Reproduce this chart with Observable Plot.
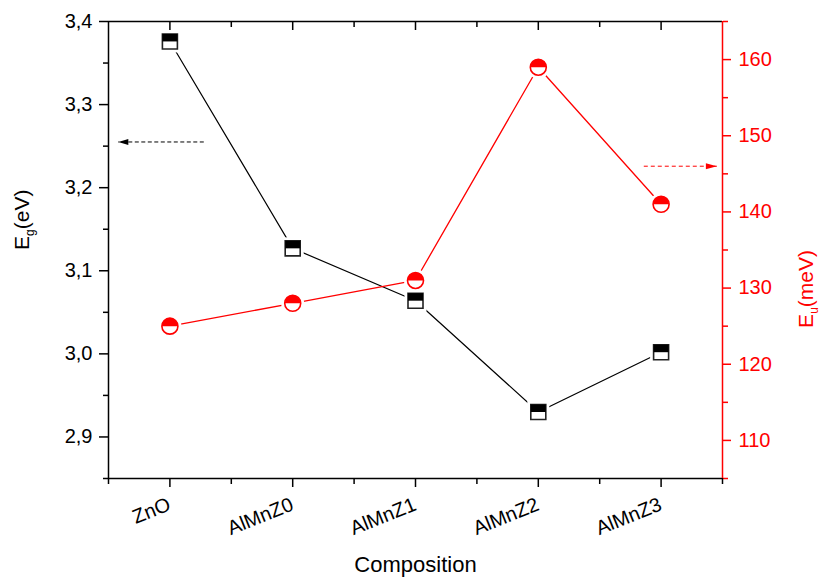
<!DOCTYPE html>
<html><head><meta charset="utf-8">
<script src="https://cdn.jsdelivr.net/npm/d3@7"></script>
<script src="https://cdn.jsdelivr.net/npm/@observablehq/plot@0.6"></script>
<style>html,body{margin:0;padding:0;background:#fff;} svg{display:block}</style>
</head><body><div id="chart"></div>
<script>
const categories = ["ZnO", "AlMnZ0", "AlMnZ1", "AlMnZ2", "AlMnZ3"];
const egValues = [3.376, 3.127, 3.064, 2.930, 3.002];
const euValues = [125, 128, 131, 159, 141];
const egTicks = [2.9, 3.0, 3.1, 3.2, 3.3, 3.4];
const egMinorTicks = [2.85, 2.95, 3.05, 3.15, 3.25, 3.35];
const euTicks = [110, 120, 130, 140, 150, 160];
const euMinorTicks = [105, 115, 125, 135, 145, 155, 165];
const egDomain = [2.85, 3.4];
const euDomain = [105, 165];
const xDomain = [-0.5, 4.5];
const xMinorTicks = [-0.5, 0.5, 1.5, 2.5, 3.5, 4.5];
// annotation arrows: [tail x, tip x] in category units, level in own axis units
const arrowEgX = [0.276, -0.42];
const arrowEgLevel = 3.255;
const arrowEuX = [3.859, 4.454];
const arrowEuLevel = 146;

const W = 828, H = 588, ML = 108, MR = 106, MT = 21, MB = 110;
const toEg = v => egDomain[0] + (v - euDomain[0]) / (euDomain[1] - euDomain[0]) * (egDomain[1] - egDomain[0]);
const fromEg = v => euDomain[0] + (v - egDomain[0]) / (egDomain[1] - egDomain[0]) * (euDomain[1] - euDomain[0]);
const idx = categories.map((_, i) => i);
const comma = d => d3.format(".1f")(d).replace(".", ",");
const rad = size => Math.sqrt(size / Math.PI);
// pixel length expressed in Eg units (for inward top ticks)
const egPerPx = (egDomain[1] - egDomain[0]) / (H - MT - MB);

const squareFull = {draw(c, s) { const r = rad(s); c.rect(-r, -r, 2 * r, 2 * r); }};
const squareTop = {draw(c, s) { const r = rad(s); c.rect(-r, -r, 2 * r, r); }};
const circleFull = {draw(c, s) { const r = rad(s); c.moveTo(r, 0); c.arc(0, 0, r, 0, 2 * Math.PI); }};
const circleTop = {draw(c, s) { const r = rad(s); c.moveTo(-r, 0); c.arc(0, 0, r, Math.PI, 2 * Math.PI); c.closePath(); }};
const arrowLeft = {draw(c) { c.moveTo(0, 0); c.lineTo(10, -3); c.lineTo(10, 3); c.closePath(); }};
const arrowRight = {draw(c) { c.moveTo(0, 0); c.lineTo(-11, -3); c.lineTo(-11, 3); c.closePath(); }};

const RED = "#ff0000";
const FONT = "'Liberation Sans', Arial, Helvetica, sans-serif";

const chart = Plot.plot({
  width: W, height: H,
  marginLeft: ML, marginRight: MR, marginTop: MT, marginBottom: MB,
  style: {fontFamily: FONT, background: "#fff", color: "#000"},
  x: {type: "linear", domain: xDomain},
  y: {domain: egDomain},
  marks: [
    // frame
    Plot.ruleY(egDomain, {stroke: "black", strokeWidth: 1.5}),
    Plot.ruleX([xDomain[0]], {stroke: "black", strokeWidth: 1.5}),
    Plot.ruleX([xDomain[1]], {stroke: RED, strokeWidth: 1.5}),
    // left axis
    Plot.axisY({anchor: "left", ticks: egTicks, tickSize: 9, tickPadding: 7, tickFormat: comma, fontSize: 20, label: null, strokeWidth: 1.5}),
    Plot.axisY({anchor: "left", ticks: egMinorTicks, tickSize: 5, tickFormat: () => "", label: null, strokeWidth: 1.5}),
    // right axis
    Plot.axisY({anchor: "right", ticks: euTicks.map(toEg), tickSize: 8, tickPadding: 8, tickFormat: d => String(Math.round(fromEg(d))), fontSize: 20, label: null, stroke: RED, fill: RED, color: RED, strokeWidth: 1.5}),
    Plot.axisY({anchor: "right", ticks: euMinorTicks.map(toEg), tickSize: 5, tickFormat: () => "", label: null, stroke: RED, strokeWidth: 1.5}),
    // bottom axis
    Plot.axisX({anchor: "bottom", ticks: idx, tickSize: 9, tickFormat: () => "", label: null, strokeWidth: 1.5}),
    Plot.axisX({anchor: "bottom", ticks: xMinorTicks, tickSize: 6, tickFormat: () => "", label: null, strokeWidth: 1.5}),
    // top inward ticks
    Plot.ruleX(idx, {x: i => i, y1: () => egDomain[1], y2: () => egDomain[1] - 9 * egPerPx, stroke: "black", strokeWidth: 1.5}),
    Plot.ruleX(xMinorTicks.slice(1, -1), {x: d => d, y1: () => egDomain[1], y2: () => egDomain[1] - 6 * egPerPx, stroke: "black", strokeWidth: 1.5}),
    // x tick labels
    Plot.text(idx, {x: i => i, text: i => categories[i], frameAnchor: "bottom", dy: 31, dx: 2, rotate: -22, textAnchor: "end", fontSize: 20, fill: "black"}),
    // axis titles
    Plot.text(["Composition"], {frameAnchor: "bottom", dy: 93, fontSize: 22, fill: "black"}),
    Plot.text(["Eg(eV)"], {frameAnchor: "left", dx: -86, rotate: -90, fontSize: 21, fill: "black", className: "eg-label"}),
    Plot.text(["Eu(meV)"], {frameAnchor: "right", dx: 84, rotate: -90, fontSize: 21, fill: RED, className: "eu-label"}),
    // series lines
    Plot.line(idx, {x: i => i, y: i => egValues[i], stroke: "black", strokeWidth: 1.2}),
    Plot.line(idx, {x: i => i, y: i => toEg(euValues[i]), stroke: RED, strokeWidth: 1.3}),
    // halos for line gaps
    Plot.dot(idx, {x: i => i, y: i => egValues[i], symbol: squareFull, r: 11, fill: "white", stroke: "none"}),
    Plot.dot(idx, {x: i => i, y: i => toEg(euValues[i]), symbol: circleFull, r: 11.5, fill: "white", stroke: "none"}),
    // markers
    Plot.dot(idx, {x: i => i, y: i => egValues[i], symbol: squareFull, r: 7.5, fill: "white", stroke: "#222", strokeWidth: 1.6}),
    Plot.dot(idx, {x: i => i, y: i => egValues[i], symbol: squareTop, r: 7.5, fill: "black", stroke: "none"}),
    Plot.dot(idx, {x: i => i, y: i => toEg(euValues[i]), symbol: circleFull, r: 8, fill: "white", stroke: RED, strokeWidth: 1.6}),
    Plot.dot(idx, {x: i => i, y: i => toEg(euValues[i]), symbol: circleTop, r: 8, fill: RED, stroke: "none"}),
    // annotation arrows
    Plot.link([0], {x1: () => arrowEgX[0], x2: () => arrowEgX[1], y1: () => arrowEgLevel, y2: () => arrowEgLevel, stroke: "black", strokeWidth: 1, strokeDasharray: "4,2.5"}),
    Plot.dot([0], {x: () => arrowEgX[1], y: () => arrowEgLevel, symbol: arrowLeft, fill: "black", stroke: "none"}),
    Plot.link([0], {x1: () => arrowEuX[0], x2: () => arrowEuX[1], y1: () => toEg(arrowEuLevel), y2: () => toEg(arrowEuLevel), stroke: RED, strokeWidth: 1, strokeDasharray: "4,3"}),
    Plot.dot([0], {x: () => arrowEuX[1], y: () => toEg(arrowEuLevel), symbol: arrowRight, fill: RED, stroke: "none"})
  ]
});

function subscriptLabel(sel, main, sub, rest) {
  const t = chart.querySelector(sel + " text");
  if (!t) return;
  t.textContent = "";
  const ns = "http://www.w3.org/2000/svg";
  const a = document.createElementNS(ns, "tspan"); a.textContent = main; t.appendChild(a);
  const b = document.createElementNS(ns, "tspan"); b.textContent = sub; b.setAttribute("dy", "5"); b.setAttribute("font-size", "12"); t.appendChild(b);
  const c = document.createElementNS(ns, "tspan"); c.textContent = rest; c.setAttribute("dy", "-5"); t.appendChild(c);
}
subscriptLabel(".eg-label", "E", "g", "(eV)");
subscriptLabel(".eu-label", "E", "u", "(meV)");

document.getElementById("chart").appendChild(chart);
</script>
</body></html>
